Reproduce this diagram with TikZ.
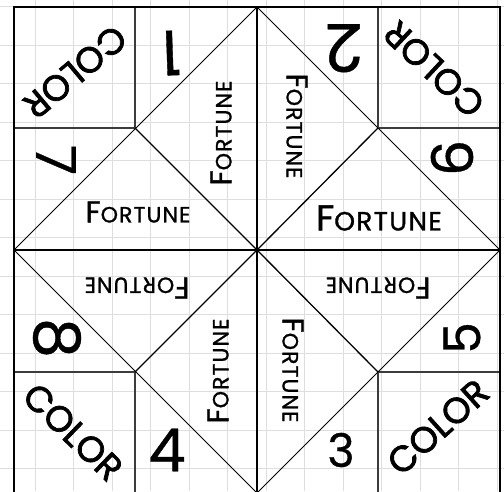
\documentclass[tikz,border=0pt]{standalone}
\usepackage{fontspec}
\setmainfont{Poppins}
\newfontfamily\spacedfont[LetterSpace=5,FakeBold=1.2]{Poppins}
\newfontfamily\heavyfont[FakeBold=2]{Poppins}
\newfontfamily\digitfont[FakeBold=0.6]{Poppins}
\definecolor{gridgray}{RGB}{222,222,222}
\definecolor{sqline}{RGB}{60,60,60}
\newcommand\FortuneWord{{\spacedfont\fontsize{30}{30}\selectfont F}{\spacedfont\fontsize{22}{22}\selectfont ORTUNE}}
\begin{document}
\begin{tikzpicture}[x=1pt,y=-1pt,
  gridline/.style={draw=gridgray,line width=0.9pt},
  border/.style={draw=black,line width=2pt},
  midline/.style={draw=black,line width=1.8pt},
  diag/.style={draw=black,line width=0.9pt},
  spoke/.style={draw=black,line width=1.3pt},
  sqbox/.style={draw=sqline,line width=1.1pt},
  digit/.style={font=\digitfont\fontsize{44}{44}\selectfont,inner sep=0pt},
  colortext/.style={font=\heavyfont\fontsize{36}{36}\selectfont,inner sep=0pt},
  fortune/.style={inner sep=0pt}]
\path[use as bounding box, clip] (0,0) rectangle (504,491);
\fill[white] (0,0) rectangle (504,491);
\foreach \i in {0,...,12} \draw[gridline] ({35+38.5*\i},0) -- ({35+38.5*\i},491);
\foreach \i in {-1,...,11} \draw[gridline] (0,{45+38.5*\i}) -- (504,{45+38.5*\i});
% key points
\coordinate (TL) at (14,7);
\coordinate (TR) at (500,7);
\coordinate (BL) at (14,493);
\coordinate (BR) at (500,493);
\coordinate (T) at (257,7);
\coordinate (B) at (257,493);
\coordinate (L) at (14,250);
\coordinate (R) at (500,250);
\coordinate (C) at (257,250);
\coordinate (Q1) at (135,128);
\coordinate (Q2) at (378,128);
\coordinate (Q3) at (135,372);
\coordinate (Q4) at (378,372);
\coordinate (S1a) at (135,7);
\coordinate (S1b) at (14,128);
\coordinate (S2a) at (378,7);
\coordinate (S2b) at (500,128);
\coordinate (S3a) at (14,372);
\coordinate (S3b) at (135,493);
\coordinate (S4a) at (500,372);
\coordinate (S4b) at (378,493);
% corner squares
\draw[sqbox] (S1a) -- (Q1) -- (S1b);
\draw[sqbox] (S2a) -- (Q2) -- (S2b);
\draw[sqbox] (S3a) -- (Q3) -- (S3b);
\draw[sqbox] (S4a) -- (Q4) -- (S4b);
% diamond
\draw[diag] (L) -- (T) -- (R) -- (B) -- cycle;
% spokes
\draw[spoke] (Q1) -- (C) -- (Q4);
\draw[spoke] (Q2) -- (C) -- (Q3);
% mid lines
\draw[midline] (T) -- (B);
\draw[midline] (L) -- (R);
% border
\draw[border] (TL) rectangle (BR);
% COLOR labels
\node[colortext, rotate=220] (c1) at (75,72) {COLOR};
\node[colortext, rotate=137] (c2) at (434,69) {COLOR};
\node[colortext, rotate=-44] (c3) at (73,432) {COLOR};
\node[colortext, rotate=42] (c4) at (438,427) {COLOR};
% numbers
\node[digit, rotate=182, scale=1.4] (n1) at (171,53) {1};
\node[digit, rotate=180, scale=1.5] (n2) at (344,48) {2};
\node[digit, rotate=90, scale=1.3] (n6) at (452,158) {6};
\node[digit, rotate=90, scale=1.15] (n5) at (462,338) {5};
\node[digit, scale=1.05] (n3) at (341,450) {3};
\node[digit, scale=1.35] (n4) at (167,450) {4};
\node[digit, rotate=-90, scale=1.45] (n8) at (57,338) {8};
\node[digit, rotate=-90, scale=1.25] (n7) at (56,160) {7};
% FORTUNE labels
\node[fortune] (f1) at (138,212) {\FortuneWord};
\node[fortune, rotate=90] (f2) at (221,133) {\FortuneWord};
\node[fortune, rotate=-90] (f3) at (297,126) {\FortuneWord};
\node[fortune, scale=1.2] (f4) at (379,218) {\FortuneWord};
\node[fortune, rotate=180] (f5) at (137,288) {\FortuneWord};
\node[fortune, rotate=90] (f6) at (218,371) {\FortuneWord};
\node[fortune, rotate=180] (f7) at (378,288) {\FortuneWord};
\node[fortune, rotate=-90] (f8) at (293,370) {\FortuneWord};
\end{tikzpicture}
\end{document}
